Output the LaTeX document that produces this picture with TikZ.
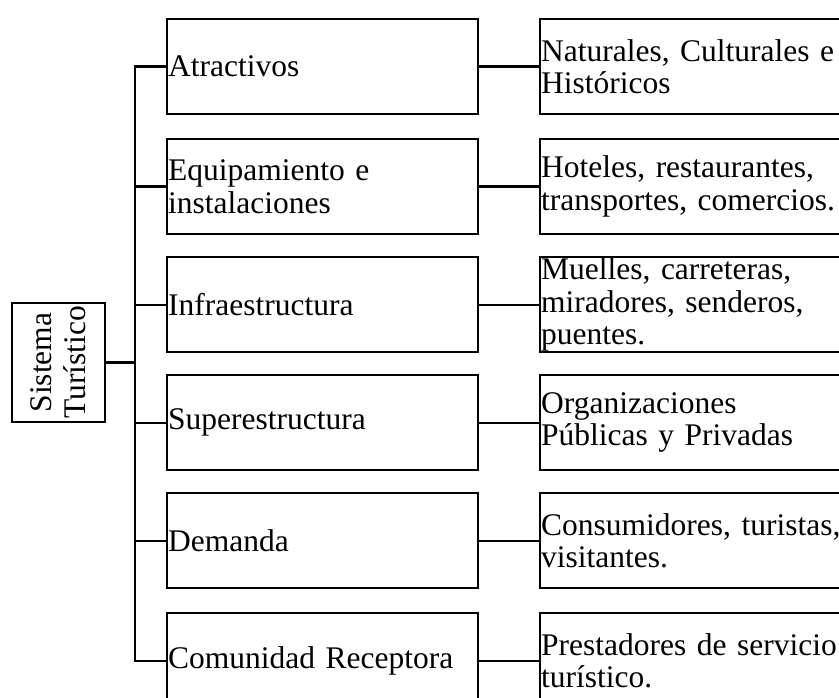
\documentclass[tikz,border=0pt]{standalone}
\usepackage{fontspec}
\setmainfont{Liberation Serif}
\usetikzlibrary{positioning}

\begin{document}
\begin{tikzpicture}[x=1pt, y=-1pt, line width=2.3pt,
  izq/.style={draw, anchor=north west, minimum width=311pt, minimum height=95pt,
    text width=309pt, align=left, inner xsep=0.5pt, inner ysep=0pt, font=\fontsize{31.5}{32.5}\selectfont},
  der/.style={draw, anchor=north west, minimum width=340pt, minimum height=95pt,
    text width=338pt, align=left, inner xsep=0.5pt, inner ysep=0pt, font=\fontsize{31.5}{32.5}\selectfont}]
\useasboundingbox (0,0) rectangle (839,698);
\clip (0,0) rectangle (839,698);
\node [draw, rotate=90, minimum width=119pt, minimum height=93pt, align=center,
  inner sep=0pt, font=\fontsize{31.5}{34}\selectfont] (sis) at (58.5,362.5) {Sistema\\Turístico};
\coordinate (tr) at (135,0);
% columna izquierda
\node [izq] (a1) at (166,18) {Atractivos};
\node [izq] (a2) at (166,138) {Equipamiento e\\instalaciones};
\node [izq] (a3) at (166,256) {Infraestructura};
\node [izq] (a4) at (166,374) {Superestructura};
\node [izq] (a5) at (166,492) {Demanda};
\node [izq] (a6) at (166,612) {Comunidad Receptora};
% columna derecha
\node [der] (b1) at (539,18) {Naturales, Culturales e\\Históricos};
\node [der] (b2) at (539,138) {Hoteles, restaurantes,\\transportes, comercios.};
\node [der] (b3) at (539,256) {Muelles, carreteras,\\miradores, senderos,\\puentes.};
\node [der] (b4) at (539,374) {Organizaciones\\Públicas y Privadas};
\node [der] (b5) at (539,492) {Consumidores, turistas,\\visitantes.};
\node [der] (b6) at (539,612) {Prestadores de servicio\\turístico.};
\draw (a1.west) -| (a6.west -| tr) -- (a6.west);
\draw (a2.west) -- (a2.west -| tr);
\draw (a3.west) -- (a3.west -| tr);
\draw (a4.west) -- (a4.west -| tr);
\draw (a5.west) -- (a5.west -| tr);
\draw (sis.south) -- (sis.south -| tr);
\draw (a1) -- (b1);
\draw (a2) -- (b2);
\draw (a3) -- (b3);
\draw (a4) -- (b4);
\draw (a5) -- (b5);
\draw (a6) -- (b6);
\end{tikzpicture}
\end{document}
